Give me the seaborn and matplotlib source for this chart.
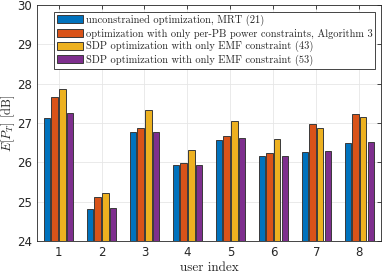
import matplotlib

matplotlib.use("Agg")
import matplotlib.pyplot as plt
import pandas as pd
import seaborn as sns

users = ["1", "2", "3", "4", "5", "6", "7", "8"]
series_names = [
    "unconstrained optimization, MRT (21)",
    "optimization with only per-PB power constraints, Algorithm 3",
    "SDP optimization with only EMF constraint (43)",
    "SDP optimization with only EMF constraint (53)",
]
mrt = [27.12, 24.82, 26.78, 25.94, 26.57, 26.16, 26.26, 26.48]
per_pb = [27.65, 25.11, 26.86, 25.97, 26.67, 26.23, 26.97, 27.23]
sdp_43 = [27.86, 25.21, 27.33, 26.32, 27.06, 26.59, 26.86, 27.16]
sdp_53 = [27.25, 24.85, 26.78, 25.94, 26.62, 26.16, 26.29, 26.51]
colors = ["#0072BD", "#D95319", "#EDB120", "#7E2F8E"]

frame = pd.DataFrame(
    {
        "user": users * 4,
        "series": [name for name in series_names for _ in users],
        "value": mrt + per_pb + sdp_43 + sdp_53,
    }
)

sns.set_theme(style="whitegrid")
plt.rcParams["mathtext.fontset"] = "cm"
plt.rcParams["axes.unicode_minus"] = False

figure = plt.figure(figsize=(3.82, 2.74), dpi=100)
axis = figure.add_axes([0.097, 0.1204, 0.9, 0.8616])
sns.barplot(
    data=frame,
    x="user",
    y="value",
    hue="series",
    hue_order=series_names,
    palette=colors,
    width=0.72,
    gap=0.17,
    edgecolor="#3a3a3a",
    linewidth=0.7,
    saturation=1,
    ax=axis,
)

axis.set_ylim(24, 30)
axis.set_xlim(-0.5, 7.5)
axis.set_yticks([24, 25, 26, 27, 28, 29, 30])
axis.set_facecolor("white")
axis.grid(True, color="#e6e6e6", linewidth=0.6)
axis.set_axisbelow(True)
for spine in axis.spines.values():
    spine.set_color("#262626")
    spine.set_linewidth(0.6)
    spine.set_visible(True)
axis.tick_params(
    direction="in", length=3, width=0.6, color="#262626",
    labelsize=8.5, labelcolor="#262626", top=True, right=True, pad=3.5,
)
axis.set_xlabel("user index", family="cmr10", fontsize=9.5, color="#262626", labelpad=2)
axis.set_ylabel(r"$E[P_T]$ [dB]", family="cmr10", fontsize=9, color="#262626")
axis.yaxis.set_label_coords(-0.058, 0.5)

legend = axis.legend(
    loc="upper left",
    bbox_to_anchor=(0.049, 0.97),
    prop={"family": "cmr10", "size": 7.55},
    frameon=True,
    fancybox=False,
    framealpha=1,
    edgecolor="#262626",
    handlelength=2.5,
    handleheight=0.8,
    handletextpad=0.3,
    labelspacing=0.24,
    borderpad=0.25,
    borderaxespad=0,
)
legend.get_frame().set_linewidth(0.6)

figure.savefig("out.png", dpi=100)
plt.close(figure)
